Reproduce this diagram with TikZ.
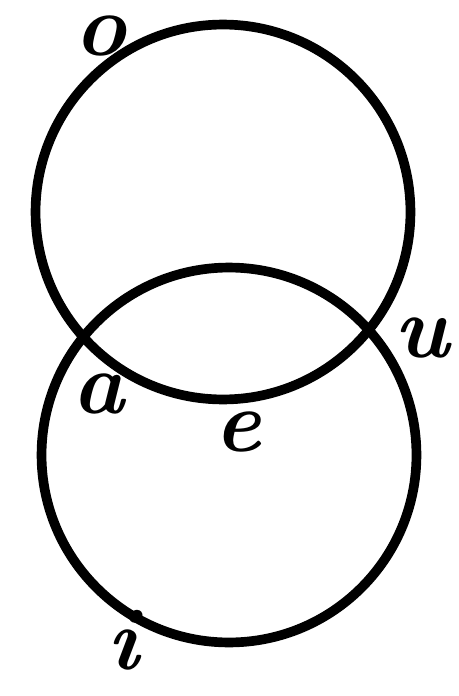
\documentclass[tikz,border=0pt]{standalone}
\usepackage{tikz}

\tikzset{
  ring/.style={circle,draw,line width=5.5pt,minimum size=7.5cm,inner sep=0pt},
  letter/.style={inner sep=0pt,font=\fontsize{50}{54}\selectfont\bfseries\itshape}
}

\begin{document}
\begin{tikzpicture}[x=0.02cm,y=-0.02cm]
\useasboundingbox (0,0) rectangle (458,696);

\node[ring] (top) at (223,212) {};
\node[ring] (bottom) at (229,455) {};

\node[letter] (o) at (100,36) {o};
\node[letter] (a) at (98,394) {a};
\node[letter] (e) at (238,432) {e};
\node[letter] (u) at (422,338) {u};
\node[letter] (i) at (123,640) {i};
\end{tikzpicture}
\end{document}
